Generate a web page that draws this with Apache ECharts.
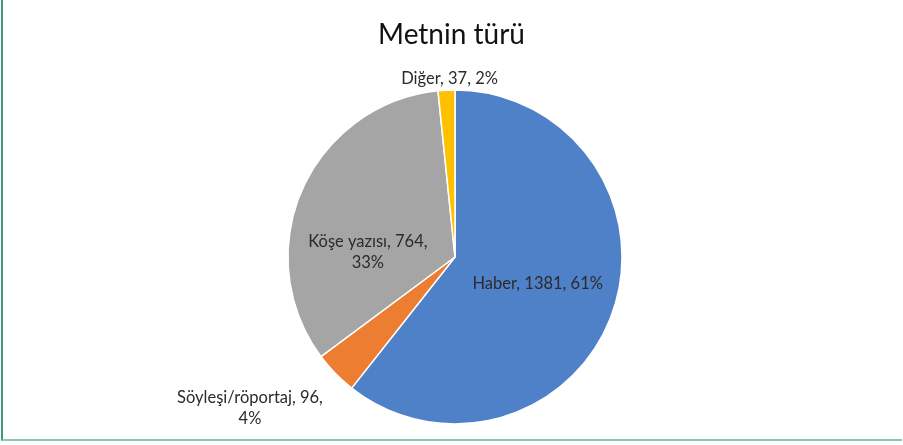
<!DOCTYPE html>
<html>
<head>
<meta charset="utf-8">
<script src="https://cdn.jsdelivr.net/npm/echarts@6/dist/echarts.min.js"></script>
<style>
	html, body { margin: 0; padding: 0; background: #fff; }
	#frame { position: absolute; left: 1px; top: 0; width: 901px; height: 441px; border-left: 2px solid #3f9a7a; border-bottom: 2px solid #86c9ad; box-sizing: border-box; }
	#myPieChart { position: absolute; left: 0; top: 0; width: 903px; height: 445px; }
</style>
</head>
<body>
<div id="frame"></div>
<div id="myPieChart"></div>
<script>
	// veri
	var categories = ['Haber', 'Söyleşi/röportaj', 'Köşe yazısı', 'Diğer'];
	var values = [1381, 96, 764, 37];
	var colors = ['#4f81c9', '#ed7d31', '#a5a5a5', '#ffc000'];
	// etiket kaydırma (piksel)
	var labelOffsets = [[1, -2], [-143, 91], [-8, 30], [-1, -92]];
	var wrapLabel = [false, true, true, false];

	var data = [];
	for (var i = 0; i < categories.length; i++) {
		data.push({
			name: categories[i],
			value: values[i],
			itemStyle: { color: colors[i] },
			label: {
				offset: labelOffsets[i],
				formatter: wrapLabel[i] ? '{b}, {c},\n{d}%' : '{b}, {c}, {d}%'
			}
		});
	}

	var option = {
		animation: false,
		title: {
			text: 'Metnin türü',
			left: 'center',
			top: 16,
			textStyle: {
				fontFamily: 'Lato',
				fontSize: 28,
				fontWeight: 'normal',
				color: '#111'
			}
		},
		series: [{
			type: 'pie',
			center: [455, 257],
			radius: 167,
			startAngle: 90,
			clockwise: true,
			percentPrecision: 0,
			data: data,
			itemStyle: {
				borderColor: '#fff',
				borderWidth: 1.5
			},
			label: {
				show: true,
				position: 'inside',
				fontFamily: 'Lato',
				fontSize: 16.5,
				lineHeight: 21,
				color: '#2b2b2b',
				align: 'center'
			},
			labelLine: { show: false },
			emphasis: { disabled: true }
		}]
	};

	var myChart = echarts.init(document.getElementById('myPieChart'));
	myChart.setOption(option);
</script>
</body>
</html>
